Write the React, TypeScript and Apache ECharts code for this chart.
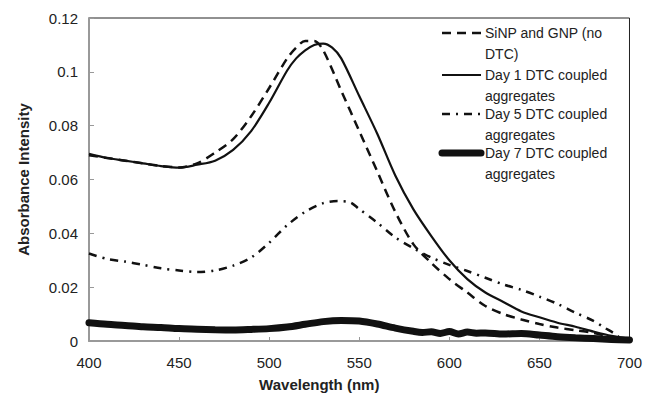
import React, { useEffect, useRef } from "react";
import * as echarts from "echarts";

const xTicks = [400, 450, 500, 550, 600, 650, 700];
const seriesNames = [
  "SiNP and GNP (no DTC)",
  "Day 1 DTC coupled aggregates",
  "Day 5 DTC coupled aggregates",
  "Day 7 DTC coupled aggregates",
];
const legendLines = [
  ["SiNP and GNP (no", "DTC)"],
  ["Day 1 DTC coupled", "aggregates"],
  ["Day 5 DTC coupled", "aggregates"],
  ["Day 7 DTC coupled", "aggregates"],
];

const wlNoDtc = [400, 410, 420, 430, 440, 450, 460, 470, 480, 490, 500, 510, 515, 520, 525, 530, 540, 550, 560, 570, 580, 590, 600, 610, 620, 630, 640, 650, 660, 670, 680, 690, 700];
const absNoDtc = [0.069, 0.068, 0.067, 0.066, 0.065, 0.0645, 0.066, 0.07, 0.075, 0.0835, 0.094, 0.105, 0.109, 0.1115, 0.1115, 0.108, 0.093, 0.078, 0.063, 0.048, 0.036, 0.029, 0.023, 0.018, 0.013, 0.01, 0.008, 0.0063, 0.005, 0.004, 0.003, 0.0015, 0.0005];

const wlDay1 = [400, 410, 420, 430, 440, 450, 460, 470, 480, 490, 500, 510, 515, 520, 525, 530, 535, 540, 550, 560, 570, 580, 590, 600, 610, 620, 630, 640, 650, 660, 670, 680, 690, 700];
const absDay1 = [0.0695, 0.068, 0.067, 0.066, 0.065, 0.0644, 0.0655, 0.067, 0.071, 0.078, 0.0885, 0.1005, 0.105, 0.108, 0.11, 0.1105, 0.109, 0.105, 0.091, 0.077, 0.0615, 0.049, 0.039, 0.03, 0.023, 0.018, 0.0145, 0.011, 0.0088, 0.0068, 0.0053, 0.0035, 0.0019, 0.0008];

const wlDay5 = [400, 410, 420, 430, 440, 450, 460, 470, 480, 490, 500, 510, 520, 530, 538, 545, 550, 560, 570, 580, 590, 600, 610, 620, 630, 640, 650, 660, 670, 680, 686, 692, 695];
const absDay5 = [0.0325, 0.0305, 0.0295, 0.0283, 0.027, 0.0262, 0.0256, 0.0262, 0.028, 0.031, 0.0365, 0.043, 0.048, 0.0512, 0.052, 0.0515, 0.049, 0.044, 0.0385, 0.0345, 0.031, 0.0283, 0.026, 0.0235, 0.021, 0.019, 0.0165, 0.0138, 0.0105, 0.0075, 0.005, 0.0026, 0.001];

const wlDay7 = [400, 410, 420, 430, 440, 450, 460, 470, 480, 490, 500, 510, 520, 530, 540, 550, 560, 570, 580, 585, 590, 595, 600, 605, 610, 615, 620, 630, 640, 650, 660, 670, 680, 690, 700];
const absDay7 = [0.0068, 0.0062, 0.0058, 0.0053, 0.005, 0.0046, 0.0044, 0.0042, 0.0041, 0.0043, 0.0046, 0.0052, 0.0062, 0.0072, 0.0076, 0.0074, 0.0063, 0.0048, 0.0036, 0.0032, 0.0034, 0.0028, 0.0035, 0.0026, 0.0033, 0.0029, 0.003, 0.0026, 0.0028, 0.0022, 0.0016, 0.0012, 0.0009, 0.0006, 0.0004];

const pairs = (xs: number[], ys: number[]) => xs.map((x, i) => [x, ys[i]]);

const FONT = "'Liberation Sans', Arial, sans-serif";

export default function App() {
  const ref = useRef<HTMLDivElement>(null);
  useEffect(() => {
    if (!ref.current) return;
    const chart = echarts.init(ref.current, undefined, { renderer: "svg" });
    const styles = [
      { width: 2.5, type: [9, 6] as any },
      { width: 2.2, type: "solid" as any },
      { width: 2.5, type: [8, 6, 2, 6] as any },
      { width: 7, type: "solid" as any },
    ];
    const datas = [
      pairs(wlNoDtc, absNoDtc),
      pairs(wlDay1, absDay1),
      pairs(wlDay5, absDay5),
      pairs(wlDay7, absDay7),
    ];
    const legendY = [33, 75, 114, 153];
    const graphic: any[] = [];
    legendLines.forEach((lines, i) => {
      graphic.push({
        type: "line",
        shape: { x1: 442, y1: legendY[i], x2: 481, y2: legendY[i] },
        style: { stroke: "#111", lineWidth: styles[i].width, lineDash: Array.isArray(styles[i].type) ? styles[i].type : null, lineCap: i === 3 ? "round" : "butt" },
      });
      lines.forEach((t, j) => {
        graphic.push({
          type: "text",
          x: 485,
          y: legendY[i] + j * 21,
          style: { text: t, font: `14px ${FONT}`, fill: "#222", verticalAlign: "middle", textAlign: "left" },
        });
      });
    });
    chart.setOption({
      animation: false,
      backgroundColor: "#fff",
      grid: { left: 89, right: 13, top: 18, bottom: 55, show: true, borderColor: "#222", borderWidth: 1 },
      xAxis: {
        type: "value",
        min: 400,
        max: 700,
        interval: 50,
        name: "Wavelength (nm)",
        nameLocation: "middle",
        nameGap: 36,
        nameTextStyle: { fontFamily: FONT, fontSize: 15, fontWeight: "bold", color: "#222", padding: [0, 80, 0, 0] },
        axisLine: { lineStyle: { color: "#999", width: 2 } },
        axisTick: { inside: true, length: 4, lineStyle: { color: "#999" } },
        axisLabel: { fontFamily: FONT, fontSize: 15, color: "#222", margin: 14, formatter: (v: number) => (xTicks.includes(v) ? String(v) : "") },
        splitLine: { show: false },
      },
      yAxis: {
        type: "value",
        min: 0,
        max: 0.12,
        interval: 0.02,
        name: "Absorbance Intensity",
        nameLocation: "middle",
        nameGap: 58,
        nameTextStyle: { fontFamily: FONT, fontSize: 15, fontWeight: "bold", color: "#222" },
        axisLine: { show: true, lineStyle: { color: "#999", width: 2 } },
        axisTick: { show: true, inside: true, length: 5, lineStyle: { color: "#999" } },
        axisLabel: { fontFamily: FONT, fontSize: 15, color: "#222", margin: 11 },
        splitLine: { show: false },
      },
      series: datas.map((d, i) => ({
        name: seriesNames[i],
        type: "line",
        data: d,
        showSymbol: false,
        smooth: 0.3,
        lineStyle: { color: "#111", width: styles[i].width, type: styles[i].type, cap: i === 3 ? "round" : "butt" },
        z: 4 - i,
      })),
      graphic,
    });
    return () => chart.dispose();
  }, []);
  return <div ref={ref} style={{ width: 645, height: 397, position: "absolute", left: 0, top: 0 }} />;
}
